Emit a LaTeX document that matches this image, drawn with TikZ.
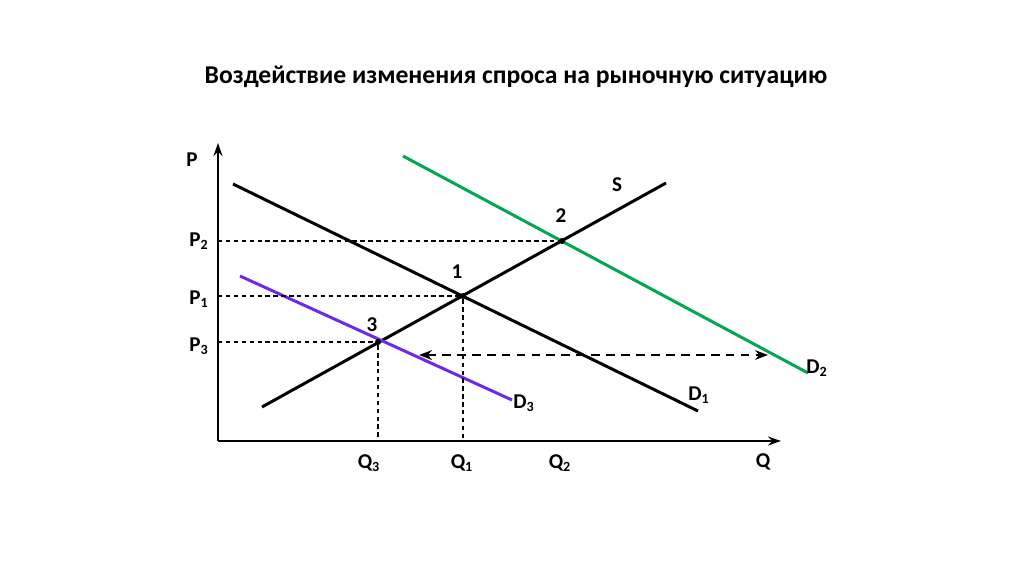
\documentclass[tikz,border=0pt]{standalone}
\usepackage{fontspec}
\setmainfont{Carlito}
\usetikzlibrary{arrows.meta,positioning,calc}
\definecolor{dgreen}{RGB}{0,168,80}
\definecolor{dpurple}{RGB}{112,40,232}
\tikzset{
  axis/.style={line width=1.1pt, -{Stealth[length=2.6mm,width=1.8mm]}},
  curve/.style={line width=1.7pt, line cap=butt},
  guide/.style={dashed, line width=0.6pt, dash pattern=on 2.5pt off 2pt},
  shiftarrow/.style={{Stealth[length=2.6mm]}-{Stealth[length=2.6mm]}, line width=1.1pt,
                     dash pattern=on 5pt off 3.5pt},
  lbl/.style={font=\fontsize{12}{14}\selectfont\bfseries, inner sep=1pt},
  pt/.style={circle, fill=black, inner sep=0pt, minimum size=1.2mm},
}
\newcommand{\sub}[1]{\textsubscript{#1}}

\begin{document}
\begin{tikzpicture}[x=0.02cm, y=-0.02cm]
\useasboundingbox (0,0) rectangle (1024,574);

% ============================ title ===================================
\node[font=\fontsize{14.6}{17}\selectfont\bfseries] (title) at (516,77)
  {Воздействие изменения спроса на рыночную ситуацию};

% ============================ axes ====================================
\coordinate (O) at (218,441);
\coordinate (Ptop) at (218,143);
\coordinate (Qend) at (781,441);
\draw[axis] (O) -- (Ptop);
\draw[axis] (O) -- (Qend);
\node[lbl] (Plab) at (192,160) {P};
\node[lbl] (Qlab) at (763,462) {Q};

% ============================ curves ==================================
\coordinate (D1a) at (233,184);  \coordinate (D1b) at (698,411);
\coordinate (Sa)  at (262,407);  \coordinate (Sb)  at (666,183);
\coordinate (D2a) at (403,156);  \coordinate (D2b) at (808,373);
\coordinate (D3a) at (240,276);  \coordinate (D3b) at (512,400);
\draw[curve] (D1a) -- (D1b);
\draw[curve] (Sa) -- (Sb);
\draw[curve, draw=dgreen] (D2a) -- (D2b);
\draw[curve, draw=dpurple] (D3a) -- (D3b);

\node[lbl] (Slab)  at (617,185) {S};
\node[lbl] (D1lab) at (699,395) {D\sub{1}};
\node[lbl] (D2lab) at (817,368) {D\sub{2}};
\node[lbl] (D3lab) at (524,403) {D\sub{3}};

% ============================ equilibria ==============================
\node[pt] (E1) at (463,296) {};
\node[pt] (E2) at (562,241) {};
\node[pt] (E3) at (378,342) {};
\node[lbl] at (457,272) {1};
\node[lbl] at (561,216) {2};
\node[lbl] at (372,325) {3};

% guide lines to the axes
\coordinate (yP2) at (218,241); \coordinate (yP1) at (218,296); \coordinate (yP3) at (218,342);
\coordinate (xQ1) at (463,441); \coordinate (xQ3) at (378,441);
\draw[guide] (yP2) -- (E2);
\draw[guide] (yP1) -- (E1);
\draw[guide] (yP3) -- (E3);
\draw[guide] (E1) -- (xQ1);
\draw[guide] (E3) -- (xQ3);

\node[lbl] (P2lab) at (199,241) {P\sub{2}};
\node[lbl] (P1lab) at (199,299) {P\sub{1}};
\node[lbl] (P3lab) at (199,346) {P\sub{3}};
\node[lbl] (Q3lab) at (369,463) {Q\sub{3}};
\node[lbl] (Q1lab) at (462,463) {Q\sub{1}};
\node[lbl] (Q2lab) at (560,463) {Q\sub{2}};

% ============================ demand shift ============================
\coordinate (shL) at (419,355);
\coordinate (shR) at (768,355);
\draw[shiftarrow] (shL) -- (shR);

\end{tikzpicture}
\end{document}
